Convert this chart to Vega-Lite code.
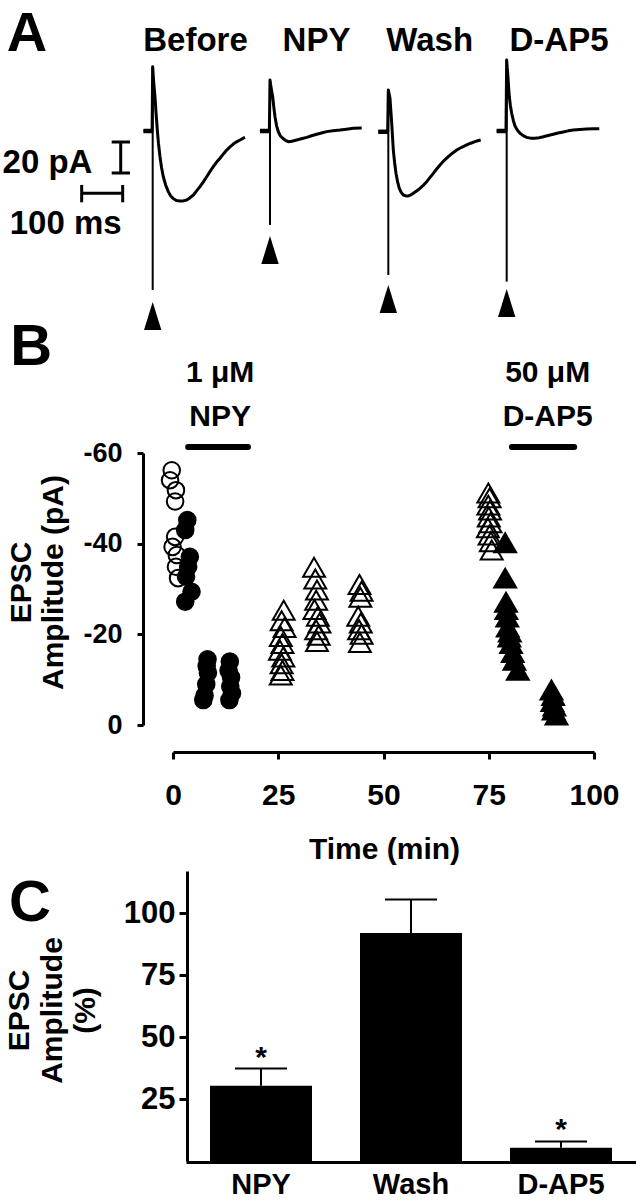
{
  "$schema": "https://vega.github.io/schema/vega-lite/v6.json",
  "width": 636,
  "height": 1200,
  "autosize": {"type": "none"},
  "padding": 0,
  "background": "white",
  "config": {
    "view": {"stroke": null},
    "axis": {"grid": false, "domainColor": "black", "tickColor": "black", "labelColor": "black", "titleColor": "black", "labelFont": "Liberation Sans", "titleFont": "Liberation Sans", "labelFontWeight": "bold", "titleFontWeight": "bold"},
    "text": {"font": "Liberation Sans", "fontWeight": "bold", "color": "black"}
  },
  "datasets": {
    "trace": [
      {"sweep":"Before","t":350,"i":0},{"sweep":"Before","t":371,"i":0},{"sweep":"Before","t":372.4,"i":41.5},{"sweep":"Before","t":374.4,"i":33},{"sweep":"Before","t":376,"i":28},{"sweep":"Before","t":378,"i":22},{"sweep":"Before","t":380.5,"i":12},{"sweep":"Before","t":383.7,"i":0.5},{"sweep":"Before","t":386.5,"i":-8},{"sweep":"Before","t":390.2,"i":-16.6},{"sweep":"Before","t":394,"i":-23.5},{"sweep":"Before","t":398.3,"i":-29.5},{"sweep":"Before","t":404,"i":-34.8},{"sweep":"Before","t":410.5,"i":-39.1},{"sweep":"Before","t":416,"i":-41.8},{"sweep":"Before","t":422.7,"i":-43.6},{"sweep":"Before","t":430,"i":-44.8},{"sweep":"Before","t":439,"i":-45.2},{"sweep":"Before","t":447,"i":-45.1},{"sweep":"Before","t":455.4,"i":-44.5},{"sweep":"Before","t":463,"i":-43.2},{"sweep":"Before","t":471.5,"i":-41.3},{"sweep":"Before","t":479,"i":-38.8},{"sweep":"Before","t":487.8,"i":-35.9},{"sweep":"Before","t":496,"i":-32.8},{"sweep":"Before","t":504.1,"i":-29.5},{"sweep":"Before","t":512,"i":-26.2},{"sweep":"Before","t":520.2,"i":-23},{"sweep":"Before","t":528,"i":-20.2},{"sweep":"Before","t":536.6,"i":-17.6},{"sweep":"Before","t":545,"i":-14.8},{"sweep":"Before","t":552.9,"i":-12.3},{"sweep":"Before","t":561,"i":-10.2},{"sweep":"Before","t":569,"i":-8.4},{"sweep":"Before","t":577,"i":-7},{"sweep":"Before","t":585.4,"i":-5.8},{"sweep":"Before","t":592,"i":-4.8},{"sweep":"Before","t":597.6,"i":-4.1},
      {"sweep":"NPY","t":634,"i":0},{"sweep":"NPY","t":657,"i":0},{"sweep":"NPY","t":658.5,"i":32.9},{"sweep":"NPY","t":660.2,"i":29.7},{"sweep":"NPY","t":662.5,"i":26},{"sweep":"NPY","t":665.1,"i":22.1},{"sweep":"NPY","t":667.8,"i":15.5},{"sweep":"NPY","t":670.7,"i":9.2},{"sweep":"NPY","t":674.5,"i":3.5},{"sweep":"NPY","t":678.8,"i":-0.5},{"sweep":"NPY","t":683.5,"i":-3},{"sweep":"NPY","t":689.5,"i":-4.7},{"sweep":"NPY","t":696,"i":-6},{"sweep":"NPY","t":703.2,"i":-6.9},{"sweep":"NPY","t":712,"i":-6.6},{"sweep":"NPY","t":723.6,"i":-5.8},{"sweep":"NPY","t":735,"i":-5},{"sweep":"NPY","t":748,"i":-4.1},{"sweep":"NPY","t":760,"i":-3.1},{"sweep":"NPY","t":772.4,"i":-2.1},{"sweep":"NPY","t":784,"i":-1.3},{"sweep":"NPY","t":796.8,"i":-0.4},{"sweep":"NPY","t":812,"i":0.2},{"sweep":"NPY","t":829.3,"i":0.65},{"sweep":"NPY","t":845,"i":1.2},{"sweep":"NPY","t":861.7,"i":1.7},{"sweep":"NPY","t":882.2,"i":1.9},
      {"sweep":"Wash","t":922.7,"i":-0.5},{"sweep":"Wash","t":945.5,"i":-0.5},{"sweep":"Wash","t":947.1,"i":26.4},{"sweep":"Wash","t":949,"i":24},{"sweep":"Wash","t":951.2,"i":21.1},{"sweep":"Wash","t":953.3,"i":13},{"sweep":"Wash","t":955.4,"i":5},{"sweep":"Wash","t":957.3,"i":-3.5},{"sweep":"Wash","t":959.3,"i":-12.3},{"sweep":"Wash","t":962.5,"i":-20.5},{"sweep":"Wash","t":965.8,"i":-27.3},{"sweep":"Wash","t":969.5,"i":-32.5},{"sweep":"Wash","t":973.9,"i":-37},{"sweep":"Wash","t":978.5,"i":-39.6},{"sweep":"Wash","t":983.7,"i":-41.3},{"sweep":"Wash","t":989.5,"i":-41.9},{"sweep":"Wash","t":995.9,"i":-41.9},{"sweep":"Wash","t":1002,"i":-41.2},{"sweep":"Wash","t":1008,"i":-40.2},{"sweep":"Wash","t":1016,"i":-38.7},{"sweep":"Wash","t":1024.4,"i":-37},{"sweep":"Wash","t":1032.5,"i":-35},{"sweep":"Wash","t":1040.7,"i":-32.7},{"sweep":"Wash","t":1048.5,"i":-30.1},{"sweep":"Wash","t":1056.8,"i":-27.3},{"sweep":"Wash","t":1065,"i":-24.5},{"sweep":"Wash","t":1073.2,"i":-21.9},{"sweep":"Wash","t":1083,"i":-19.1},{"sweep":"Wash","t":1093.4,"i":-16.6},{"sweep":"Wash","t":1103.5,"i":-14.3},{"sweep":"Wash","t":1113.9,"i":-12.3},{"sweep":"Wash","t":1126,"i":-10.5},{"sweep":"Wash","t":1138.3,"i":-9},{"sweep":"Wash","t":1148,"i":-7.9},{"sweep":"Wash","t":1158.5,"i":-6.9},{"sweep":"Wash","t":1165,"i":-6.3},{"sweep":"Wash","t":1172.4,"i":-5.8},
      {"sweep":"D-AP5","t":1211.4,"i":0},{"sweep":"D-AP5","t":1234.1,"i":0},{"sweep":"D-AP5","t":1235.8,"i":45.8},{"sweep":"D-AP5","t":1237,"i":41},{"sweep":"D-AP5","t":1238.3,"i":37.2},{"sweep":"D-AP5","t":1240.2,"i":29.5},{"sweep":"D-AP5","t":1242.2,"i":22.1},{"sweep":"D-AP5","t":1245,"i":16.2},{"sweep":"D-AP5","t":1248,"i":11.4},{"sweep":"D-AP5","t":1252,"i":6.8},{"sweep":"D-AP5","t":1256.1,"i":3.2},{"sweep":"D-AP5","t":1262,"i":0.5},{"sweep":"D-AP5","t":1268.3,"i":-1.5},{"sweep":"D-AP5","t":1276,"i":-3},{"sweep":"D-AP5","t":1284.6,"i":-4.1},{"sweep":"D-AP5","t":1294,"i":-4.6},{"sweep":"D-AP5","t":1304.9,"i":-4.7},{"sweep":"D-AP5","t":1315,"i":-4.3},{"sweep":"D-AP5","t":1325.1,"i":-3.7},{"sweep":"D-AP5","t":1337,"i":-2.9},{"sweep":"D-AP5","t":1349.5,"i":-2.1},{"sweep":"D-AP5","t":1361,"i":-1.3},{"sweep":"D-AP5","t":1373.9,"i":-0.6},{"sweep":"D-AP5","t":1386,"i":0.1},{"sweep":"D-AP5","t":1398.3,"i":0.65},{"sweep":"D-AP5","t":1414,"i":1},{"sweep":"D-AP5","t":1430.9,"i":1.3},{"sweep":"D-AP5","t":1446,"i":1.4},{"sweep":"D-AP5","t":1461.7,"i":1.5}
    ],
    "art": [
      {"sweep":"Before","pre":350,"t":372.4,"base":0,"top":41.5,"bottom":-102.6,"arrow":-119.4},
      {"sweep":"NPY","pre":634,"t":658.5,"base":0,"top":32.9,"bottom":-60.6,"arrow":-76.8},
      {"sweep":"Wash","pre":922.7,"t":947.1,"base":-0.5,"top":26.4,"bottom":-92.9,"arrow":-108.4},
      {"sweep":"D-AP5","pre":1211.4,"t":1235.8,"base":0,"top":45.8,"bottom":-97.2,"arrow":-111}
    ],
    "scalebar": [
      {"x1":294.4,"x2":294.4,"y1":-7.1,"y2":-27.1},
      {"x1":272.4,"x2":317.1,"y1":-7.1,"y2":-7.1},
      {"x1":272.4,"x2":317.1,"y1":-27.1,"y2":-27.1},
      {"x1":199.2,"x2":299.2,"y1":-40.2,"y2":-40.2},
      {"x1":199.2,"x2":199.2,"y1":-34.8,"y2":-46},
      {"x1":299.2,"x2":299.2,"y1":-34.8,"y2":-46}
    ],
    "alab": [
      {"t":476.8,"i":58.1,"label":"Before"},
      {"t":772,"i":58.1,"label":"NPY"},
      {"t":1048,"i":58.1,"label":"Wash"},
      {"t":1363.4,"i":58.1,"label":"D-AP5"},
      {"t":115.9,"i":-20.4,"label":"20 pA"},
      {"t":160.2,"i":-59.7,"label":"100 ms"}
    ],
    "aletter": [{"t":65.9,"i":62.9,"label":"A"}],
    "b": [
      {"t":-0.3,"amp":-56.2,"cond":"Before"},{"t":-0.7,"amp":-54,"cond":"Before"},{"t":0.7,"amp":-51.8,"cond":"Before"},{"t":0.5,"amp":-49.3,"cond":"Before"},{"t":0.5,"amp":-41.5,"cond":"Before"},{"t":-0.1,"amp":-39.3,"cond":"Before"},{"t":0.9,"amp":-37.5,"cond":"Before"},{"t":0.7,"amp":-34.9,"cond":"Before"},{"t":1.2,"amp":-32.4,"cond":"Before"},
      {"t":3.4,"amp":-45.2,"cond":"NPY"},{"t":2.9,"amp":-43,"cond":"NPY"},{"t":4.0,"amp":-37.1,"cond":"NPY"},{"t":3.6,"amp":-34.9,"cond":"NPY"},{"t":3.1,"amp":-32.7,"cond":"NPY"},{"t":4.4,"amp":-29.4,"cond":"NPY"},{"t":2.9,"amp":-27.2,"cond":"NPY"},
      {"t":8.2,"amp":-14.5,"cond":"NPY"},{"t":8.0,"amp":-13,"cond":"NPY"},{"t":8.3,"amp":-11.5,"cond":"NPY"},{"t":7.9,"amp":-9,"cond":"NPY"},{"t":7.5,"amp":-6.5,"cond":"NPY"},{"t":7.2,"amp":-5.5,"cond":"NPY"},
      {"t":13.5,"amp":-14,"cond":"NPY"},{"t":13.2,"amp":-12,"cond":"NPY"},{"t":13.8,"amp":-10.5,"cond":"NPY"},{"t":13.6,"amp":-8.5,"cond":"NPY"},{"t":14.0,"amp":-7,"cond":"NPY"},{"t":13.4,"amp":-5.5,"cond":"NPY"},
      {"t":26.3,"amp":-25.3,"cond":"Wash"},{"t":25.8,"amp":-23,"cond":"Wash"},{"t":26.5,"amp":-21.5,"cond":"Wash"},{"t":25.6,"amp":-19.5,"cond":"Wash"},{"t":26.0,"amp":-18,"cond":"Wash"},{"t":25.4,"amp":-16.5,"cond":"Wash"},{"t":26.2,"amp":-15,"cond":"Wash"},{"t":25.8,"amp":-13.5,"cond":"Wash"},{"t":26.0,"amp":-12,"cond":"Wash"},{"t":25.6,"amp":-11,"cond":"Wash"},
      {"t":33.5,"amp":-34.8,"cond":"Wash"},{"t":33.8,"amp":-32.2,"cond":"Wash"},{"t":34.2,"amp":-29.8,"cond":"Wash"},{"t":34.0,"amp":-27.5,"cond":"Wash"},{"t":33.6,"amp":-25.5,"cond":"Wash"},{"t":34.4,"amp":-24,"cond":"Wash"},{"t":34.8,"amp":-22.5,"cond":"Wash"},{"t":34.0,"amp":-21,"cond":"Wash"},{"t":34.6,"amp":-19.8,"cond":"Wash"},{"t":34.2,"amp":-18.4,"cond":"Wash"},
      {"t":44.3,"amp":-31,"cond":"Wash"},{"t":44.8,"amp":-29.5,"cond":"Wash"},{"t":44.5,"amp":-28.2,"cond":"Wash"},{"t":44.0,"amp":-24,"cond":"Wash"},{"t":44.6,"amp":-22.5,"cond":"Wash"},{"t":44.2,"amp":-21,"cond":"Wash"},{"t":44.8,"amp":-20,"cond":"Wash"},{"t":44.4,"amp":-18.2,"cond":"Wash"},
      {"t":74.9,"amp":-51.2,"cond":"Wash"},{"t":75.2,"amp":-50.1,"cond":"Wash"},{"t":74.9,"amp":-48.5,"cond":"Wash"},{"t":75.3,"amp":-47.4,"cond":"Wash"},{"t":75.0,"amp":-45.9,"cond":"Wash"},{"t":75.4,"amp":-44.6,"cond":"Wash"},{"t":74.8,"amp":-43.5,"cond":"Wash"},{"t":75.2,"amp":-41.9,"cond":"Wash"},{"t":75.5,"amp":-40.4,"cond":"Wash"},{"t":75.7,"amp":-38.6,"cond":"Wash"},
      {"t":78.9,"amp":-40.2,"cond":"D-AP5"},{"t":78.9,"amp":-32.4,"cond":"D-AP5"},{"t":79.1,"amp":-27.1,"cond":"D-AP5"},{"t":79.2,"amp":-25.5,"cond":"D-AP5"},{"t":79.4,"amp":-23.8,"cond":"D-AP5"},{"t":79.5,"amp":-21.6,"cond":"D-AP5"},{"t":80.0,"amp":-20.5,"cond":"D-AP5"},{"t":79.9,"amp":-19.4,"cond":"D-AP5"},{"t":80.3,"amp":-18,"cond":"D-AP5"},{"t":80.7,"amp":-16,"cond":"D-AP5"},{"t":81.1,"amp":-14.3,"cond":"D-AP5"},{"t":81.9,"amp":-12.1,"cond":"D-AP5"},
      {"t":89.9,"amp":-7.7,"cond":"D-AP5"},{"t":90.3,"amp":-6.5,"cond":"D-AP5"},{"t":90.1,"amp":-5.2,"cond":"D-AP5"},{"t":90.6,"amp":-4.2,"cond":"D-AP5"},{"t":90.4,"amp":-3.3,"cond":"D-AP5"},{"t":91.1,"amp":-2.2,"cond":"D-AP5"}
    ],
    "drug": [
      {"start":3.6,"end":17.8,"level":-61.3},
      {"start":80.5,"end":95.3,"level":-61.3}
    ],
    "dlab": [
      {"t":11.2,"amp":-77.7,"label":"1 μM"},
      {"t":11.2,"amp":-68.0,"label":"NPY"},
      {"t":89,"amp":-77.7,"label":"50 μM"},
      {"t":89,"amp":-68.0,"label":"D-AP5"}
    ],
    "letters": [
      {"t":-33.7,"amp":-83.2,"label":"B"},
      {"t":-34,"amp":39.5,"label":"C"}
    ],
    "c": [
      {"cond":"NPY","mean":30.4,"upper":37.3,"sig":"*"},
      {"cond":"Wash","mean":92,"upper":105.5,"sig":""},
      {"cond":"D-AP5","mean":5.3,"upper":7.9,"sig":"*"}
    ]
  },
  "resolve": {"scale": {"x": "independent", "y": "independent", "fill": "independent"}, "axis": {"x": "independent", "y": "independent"}},
  "layer": [
    {
      "data": {"name": "trace"},
      "mark": {"type": "line", "color": "black", "strokeWidth": 3, "strokeJoin": "round"},
      "encoding": {
        "x": {"field": "t", "type": "quantitative", "scale": {"domain": [0, 1551.2], "range": [0, 636], "nice": false, "zero": false}, "axis": null},
        "y": {"field": "i", "type": "quantitative", "scale": {"domain": [-100, 50], "range": [286, 53.5], "nice": false, "zero": false}, "axis": null},
        "detail": {"field": "sweep"}
      }
    },
    {
      "data": {"name": "art"},
      "mark": {"type": "rule", "color": "black", "strokeWidth": 2},
      "encoding": {
        "x": {"field": "t", "type": "quantitative", "scale": {"domain": [0, 1551.2], "range": [0, 636], "nice": false, "zero": false}, "axis": null},
        "y": {"field": "top", "type": "quantitative", "scale": {"domain": [-100, 50], "range": [286, 53.5], "nice": false, "zero": false}, "axis": null},
        "y2": {"field": "bottom"}
      }
    },
    {
      "data": {"name": "art"},
      "mark": {"type": "rule", "color": "black", "strokeWidth": 4.5},
      "encoding": {
        "x": {"field": "pre", "type": "quantitative", "scale": {"domain": [0, 1551.2], "range": [0, 636], "nice": false, "zero": false}, "axis": null},
        "x2": {"field": "t"},
        "y": {"field": "base", "type": "quantitative", "scale": {"domain": [-100, 50], "range": [286, 53.5], "nice": false, "zero": false}, "axis": null}
      }
    },
    {
      "data": {"name": "art"},
      "mark": {"type": "point", "shape": "M0,-1L-0.62,1L0.62,1Z", "size": 784, "filled": true, "color": "black", "opacity": 1},
      "encoding": {
        "x": {"field": "t", "type": "quantitative", "scale": {"domain": [0, 1551.2], "range": [0, 636], "nice": false, "zero": false}, "axis": null},
        "y": {"field": "arrow", "type": "quantitative", "scale": {"domain": [-100, 50], "range": [286, 53.5], "nice": false, "zero": false}, "axis": null}
      }
    },
    {
      "data": {"name": "scalebar"},
      "mark": {"type": "rule", "color": "black", "strokeWidth": 3},
      "encoding": {
        "x": {"field": "x1", "type": "quantitative", "scale": {"domain": [0, 1551.2], "range": [0, 636], "nice": false, "zero": false}, "axis": null},
        "x2": {"field": "x2"},
        "y": {"field": "y1", "type": "quantitative", "scale": {"domain": [-100, 50], "range": [286, 53.5], "nice": false, "zero": false}, "axis": null},
        "y2": {"field": "y2"}
      }
    },
    {
      "data": {"name": "alab"},
      "mark": {"type": "text", "fontSize": 33, "fontWeight": "bold", "font": "Liberation Sans", "align": "center", "baseline": "middle", "color": "black"},
      "encoding": {
        "x": {"field": "t", "type": "quantitative", "scale": {"domain": [0, 1551.2], "range": [0, 636], "nice": false, "zero": false}, "axis": null},
        "y": {"field": "i", "type": "quantitative", "scale": {"domain": [-100, 50], "range": [286, 53.5], "nice": false, "zero": false}, "axis": null},
        "text": {"field": "label"}
      }
    },
    {
      "data": {"name": "aletter"},
      "mark": {"type": "text", "fontSize": 56, "fontWeight": "bold", "font": "Liberation Sans", "align": "center", "baseline": "middle", "color": "black"},
      "encoding": {
        "x": {"field": "t", "type": "quantitative", "scale": {"domain": [0, 1551.2], "range": [0, 636], "nice": false, "zero": false}, "axis": null},
        "y": {"field": "i", "type": "quantitative", "scale": {"domain": [-100, 50], "range": [286, 53.5], "nice": false, "zero": false}, "axis": null},
        "text": {"field": "label"}
      }
    },
    {
      "data": {"name": "b"},
      "transform": [{"filter": "datum.cond === 'Before' || datum.cond === 'NPY'"}],
      "mark": {"type": "point", "shape": "circle", "size": 275, "filled": true, "stroke": "black", "strokeWidth": 2, "opacity": 1},
      "encoding": {
        "x": {"field": "t", "type": "quantitative", "scale": {"domain": [0, 100], "range": [173, 594], "nice": false, "zero": false},
          "axis": {"orient": "bottom", "offset": -448, "values": [0, 25, 50, 75, 100], "domainWidth": 3, "tickWidth": 3, "tickSize": 7, "labelFontSize": 30, "labelPadding": 21, "labelFlush": false, "title": "Time (min)", "titleFontSize": 30, "titleX": 384, "titleY": 82}},
        "y": {"field": "amp", "type": "quantitative", "scale": {"domain": [-60, 0], "range": [453, 725], "nice": false, "zero": false},
          "axis": {"orient": "left", "offset": -143, "values": [-60, -40, -20, 0], "labelExpr": "datum.value + ''", "domainWidth": 3, "tickWidth": 3, "tickSize": 6, "labelFontSize": 27, "labelPadding": 15, "title": ["EPSC", "Amplitude (pA)"], "titleFontSize": 30, "titleLineHeight": 32, "titleX": -107, "titleY": 582}},
        "fill": {"field": "cond", "type": "nominal", "scale": {"domain": ["Before", "NPY"], "range": ["transparent", "black"]}, "legend": null}
      }
    },
    {
      "data": {"name": "b"},
      "transform": [{"filter": "datum.cond === 'Wash' || datum.cond === 'D-AP5'"}],
      "mark": {"type": "point", "shape": "triangle-up", "size": 480, "filled": true, "stroke": "black", "strokeWidth": 2, "opacity": 1},
      "encoding": {
        "x": {"field": "t", "type": "quantitative", "scale": {"domain": [0, 100], "range": [173, 594], "nice": false, "zero": false}, "axis": null},
        "y": {"field": "amp", "type": "quantitative", "scale": {"domain": [-60, 0], "range": [453, 725], "nice": false, "zero": false}, "axis": null},
        "fill": {"field": "cond", "type": "nominal", "scale": {"domain": ["Wash", "D-AP5"], "range": ["transparent", "black"]}, "legend": null}
      }
    },
    {
      "data": {"name": "drug"},
      "mark": {"type": "rule", "color": "black", "strokeWidth": 6, "strokeCap": "round"},
      "encoding": {
        "x": {"field": "start", "type": "quantitative", "scale": {"domain": [0, 100], "range": [173, 594], "nice": false, "zero": false}, "axis": null},
        "x2": {"field": "end"},
        "y": {"field": "level", "type": "quantitative", "scale": {"domain": [-60, 0], "range": [453, 725], "nice": false, "zero": false}, "axis": null}
      }
    },
    {
      "data": {"name": "dlab"},
      "mark": {"type": "text", "fontSize": 30, "fontWeight": "bold", "font": "Liberation Sans", "align": "center", "baseline": "middle", "color": "black"},
      "encoding": {
        "x": {"field": "t", "type": "quantitative", "scale": {"domain": [0, 100], "range": [173, 594], "nice": false, "zero": false}, "axis": null},
        "y": {"field": "amp", "type": "quantitative", "scale": {"domain": [-60, 0], "range": [453, 725], "nice": false, "zero": false}, "axis": null},
        "text": {"field": "label"}
      }
    },
    {
      "data": {"name": "letters"},
      "mark": {"type": "text", "fontSize": 58, "fontWeight": "bold", "font": "Liberation Sans", "align": "center", "baseline": "middle", "color": "black"},
      "encoding": {
        "x": {"field": "t", "type": "quantitative", "scale": {"domain": [0, 100], "range": [173, 594], "nice": false, "zero": false}, "axis": null},
        "y": {"field": "amp", "type": "quantitative", "scale": {"domain": [-60, 0], "range": [453, 725], "nice": false, "zero": false}, "axis": null},
        "text": {"field": "label"}
      }
    },
    {
      "data": {"name": "c"},
      "mark": {"type": "bar", "color": "black"},
      "encoding": {
        "x": {"field": "cond", "type": "nominal", "sort": null, "scale": {"domain": ["NPY", "Wash", "D-AP5"], "range": [186, 636], "paddingInner": 0.32, "paddingOuter": 0.16},
          "axis": {"orient": "bottom", "offset": -38, "domainWidth": 3, "ticks": false, "labelAngle": 0, "labelFontSize": 29, "labelPadding": 8, "title": null}},
        "y": {"field": "mean", "type": "quantitative", "scale": {"domain": [0, 117], "range": [1161, 871], "nice": false},
          "axis": {"orient": "left", "offset": -187, "values": [25, 50, 75, 100], "domainWidth": 3, "tickWidth": 3, "tickSize": 8, "labelFontSize": 31, "labelPadding": 4, "title": ["EPSC", "Amplitude", "(%)"], "titleFontSize": 30, "titleLineHeight": 33, "titleX": -153, "titleY": 1010}}
      }
    },
    {
      "data": {"name": "c"},
      "mark": {"type": "rule", "color": "black", "strokeWidth": 2},
      "encoding": {
        "x": {"field": "cond", "type": "nominal", "sort": null, "scale": {"domain": ["NPY", "Wash", "D-AP5"], "range": [186, 636], "paddingInner": 0.32, "paddingOuter": 0.16}, "axis": null},
        "y": {"field": "mean", "type": "quantitative", "scale": {"domain": [0, 117], "range": [1161, 871], "nice": false}, "axis": null},
        "y2": {"field": "upper"}
      }
    },
    {
      "data": {"name": "c"},
      "mark": {"type": "tick", "color": "black", "size": 52, "thickness": 2, "orient": "horizontal", "opacity": 1},
      "encoding": {
        "x": {"field": "cond", "type": "nominal", "sort": null, "scale": {"domain": ["NPY", "Wash", "D-AP5"], "range": [186, 636], "paddingInner": 0.32, "paddingOuter": 0.16}, "axis": null},
        "y": {"field": "upper", "type": "quantitative", "scale": {"domain": [0, 117], "range": [1161, 871], "nice": false}, "axis": null}
      }
    },
    {
      "data": {"name": "c"},
      "mark": {"type": "text", "fontSize": 30, "fontWeight": "bold", "font": "Liberation Sans", "align": "center", "baseline": "alphabetic", "dy": -2, "color": "black"},
      "encoding": {
        "x": {"field": "cond", "type": "nominal", "sort": null, "scale": {"domain": ["NPY", "Wash", "D-AP5"], "range": [186, 636], "paddingInner": 0.32, "paddingOuter": 0.16}, "axis": null},
        "y": {"field": "upper", "type": "quantitative", "scale": {"domain": [0, 117], "range": [1161, 871], "nice": false}, "axis": null},
        "text": {"field": "sig"}
      }
    }
  ]
}
